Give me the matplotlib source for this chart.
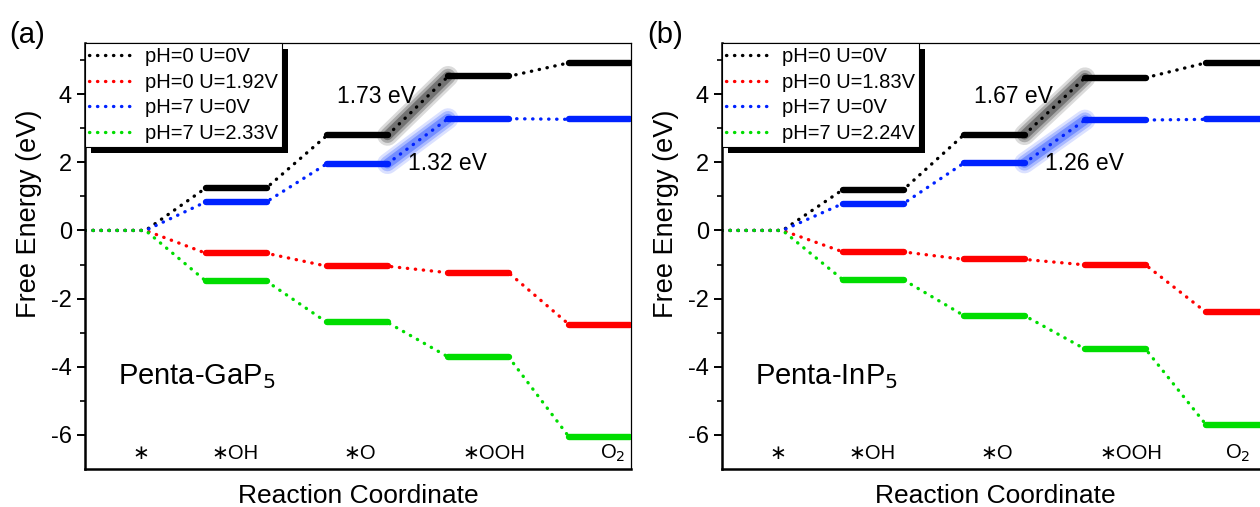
import matplotlib.pyplot as plt
from matplotlib.patches import Rectangle

plt.rcParams['font.family'] = ['Liberation Sans', 'DejaVu Sans']
plt.rcParams['axes.unicode_minus'] = False

# reaction steps (x categories)
steps = ['∗', '∗OH', '∗O', '∗OOH', 'O$_2$']

# Penta-GaP5 free energies (eV)
gap5_ph0_u0 = [0, 1.25, 2.79, 4.52, 4.92]
gap5_ph0_u = [0, -0.67, -1.05, -1.24, -2.76]
gap5_ph7_u0 = [0, 0.84, 1.96, 3.28, 3.26]
gap5_ph7_u = [0, -1.49, -2.70, -3.71, -6.06]
gap5_labels = ['pH=0 U=0V', 'pH=0 U=1.92V', 'pH=7 U=0V', 'pH=7 U=2.33V']
gap5_steps = [1.73, 1.32]

# Penta-InP5 free energies (eV)
inp5_ph0_u0 = [0, 1.20, 2.81, 4.48, 4.92]
inp5_ph0_u = [0, -0.63, -0.85, -1.01, -2.40]
inp5_ph7_u0 = [0, 0.79, 1.98, 3.24, 3.26]
inp5_ph7_u = [0, -1.45, -2.50, -3.48, -5.70]
inp5_labels = ['pH=0 U=0V', 'pH=0 U=1.83V', 'pH=7 U=0V', 'pH=7 U=2.24V']
inp5_steps = [1.67, 1.26]

colors = ['black', '#ff0000', '#0022ff', '#00dd00']
W = 0.5  # level width


def draw(ax, series, labels, dsteps, name, o2x):
    for vals, lab, c in zip(series, labels, colors):
        xs, ys = [0, W], [vals[0], vals[0]]
        for i, v in enumerate(vals[1:], start=1):
            xs += [i, i + W]
            ys += [v, v]
        # dotted connectors (path through all levels)
        ax.plot(xs, ys, linestyle=(0, (0.1, 2.3)), dash_capstyle='round',
                lw=2.4, color=c, label=lab, zorder=2)
        for i, v in enumerate(vals[1:], start=1):
            ax.plot([i, i + W], [v, v], color=c, lw=4.6,
                    solid_capstyle='round', zorder=3)
    # glow on the potential-determining step (*O -> *OOH)
    for vals, c in [(series[0], 'black'), (series[2], '#0030ff')]:
        for lw, a in [(15, 0.14), (11, 0.22), (7, 0.32)]:
            ax.plot([2 + W, 3], [vals[2], vals[3]], color=c, lw=lw, alpha=a,
                    solid_capstyle='round', zorder=1)
    ax.text(2.08, 3.94, f'{dsteps[0]:.2f} eV', fontsize=16.5, va='center')
    ax.text(2.67, 1.97, f'{dsteps[1]:.2f} eV', fontsize=16.5, va='center')
    ax.text(0.27, -4.3, name, fontsize=21, va='center')

    label_x = [0.46, 1.24, 2.27, 3.38, o2x]
    for lx, s in zip(label_x, steps):
        ax.text(lx, -6.55, s, fontsize=14.5, ha='center', va='center')

    ax.set_xlim(0, 4.512)
    ax.set_ylim(-7, 5.5)
    ax.set_xticks([])
    ax.set_yticks([-6, -4, -2, 0, 2, 4])
    ax.set_yticks([-5, -3, -1, 1, 3, 5], minor=True)
    ax.tick_params(axis='y', which='major', direction='out', length=6,
                   width=1.4, labelsize=17)
    ax.tick_params(axis='y', which='minor', direction='out', length=3.5,
                   width=1.2)
    for s in ['left', 'bottom']:
        ax.spines[s].set_linewidth(1.8)
    for s in ['top', 'right']:
        ax.spines[s].set_linewidth(0.9)
    ax.set_ylabel('Free Energy (eV)', fontsize=19.5)
    ax.yaxis.set_label_coords(-0.079, 0.6)
    ax.set_xlabel('Reaction Coordinate', fontsize=19)
    ax.xaxis.set_label_coords(0.5, -0.035)

    leg = ax.legend(loc='upper left', bbox_to_anchor=(0, 1), borderaxespad=0,
                    fontsize=14.5, handlelength=2.4, handletextpad=0.4,
                    labelspacing=0.33, borderpad=0.2, fancybox=False,
                    framealpha=1, edgecolor='black')
    leg.get_frame().set_linewidth(0.8)
    return leg


fig = plt.figure(figsize=(12.6, 5.07), dpi=100)
ax1 = fig.add_axes([85 / 1260, 38 / 507, 546 / 1260, 426 / 507])
ax2 = fig.add_axes([722 / 1260, 38 / 507, 546 / 1260, 426 / 507])

legs = [
    draw(ax1, [gap5_ph0_u0, gap5_ph0_u, gap5_ph7_u0, gap5_ph7_u], gap5_labels,
         gap5_steps, 'Penta-GaP$_5$', 4.36),
    draw(ax2, [inp5_ph0_u0, inp5_ph0_u, inp5_ph7_u0, inp5_ph7_u], inp5_labels,
         inp5_steps, 'Penta-InP$_5$', 4.26),
]

# solid black drop shadow behind each legend
fig.canvas.draw()
for ax, leg in zip([ax1, ax2], legs):
    bb = leg.get_window_extent().transformed(ax.transAxes.inverted())
    dx = 6 / 546
    dy = 6 / 426
    ax.add_patch(Rectangle((bb.x0 + dx, bb.y0 - dy), bb.width, bb.height,
                           transform=ax.transAxes, facecolor='black',
                           edgecolor='none', zorder=4.9, clip_on=False))

fig.text(0.007, 0.93, '(a)', fontsize=21, va='center')
fig.text(0.514, 0.93, '(b)', fontsize=21, va='center')

fig.savefig('out.png', dpi=100)
